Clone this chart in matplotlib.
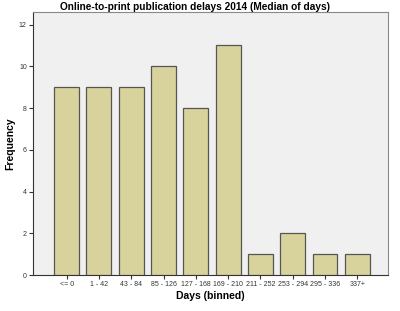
import matplotlib
matplotlib.use("Agg")
import matplotlib.pyplot as plt

categories = ["<= 0", "1 - 42", "43 - 84", "85 - 126", "127 - 168", "169 - 210",
              "211 - 252", "253 - 294", "295 - 336", "337+"]
frequency = [9, 9, 9, 10, 8, 11, 1, 2, 1, 1]
yticks = [0, 2, 4, 6, 8, 10, 12]

plt.rcParams['font.family'] = ['Liberation Sans', 'DejaVu Sans']

fig = plt.figure(figsize=(4.0, 3.11), dpi=100)
W, H = 400, 311
left, right, top, bottom = 33, 388, 12, 275
ax = fig.add_axes([left / W, 1 - bottom / H, (right - left) / W, (bottom - top) / H])
ax.set_facecolor('#f0f0f0')

x = list(range(len(categories)))
ax.bar(x, frequency, width=0.77, color='#d8d39c', edgecolor='#555555', linewidth=0.9, zorder=3)

ax.set_xlim(-1.04, 9.95)
ax.set_ylim(0, 12.6)
ax.set_yticks(yticks)
ax.set_yticklabels([str(v) for v in yticks], fontsize=5, color='#333333')
ax.set_xticks(x)
ax.set_xticklabels(categories, fontsize=5, color='#333333')
ax.tick_params(axis='both', length=3, width=0.8, color='#333333', pad=1.5)

for s in ax.spines.values():
    s.set_color('#888888')
    s.set_linewidth(0.8)
ax.spines['left'].set_color('#333333')
ax.spines['bottom'].set_color('#333333')

ax.set_ylabel('Frequency', fontsize=7.5, fontweight='bold')
ax.yaxis.set_label_coords((10 - left) / (right - left), 0.5)
ax.set_xlabel('Days (binned)', fontsize=7.5, fontweight='bold')
ax.xaxis.set_label_coords(0.5 * (left + right) / W * W / (right - left) - left / (right - left) + 0.0, -(296 - bottom) / (bottom - top))
ax.xaxis.label.set_verticalalignment('center')
ax.yaxis.label.set_verticalalignment('center')
fig.text(195 / W, 1 - 7 / H, 'Online-to-print publication delays 2014 (Median of days)',
         ha='center', va='center', fontsize=7.3, fontweight='bold')

fig.savefig('out.png', dpi=100)
